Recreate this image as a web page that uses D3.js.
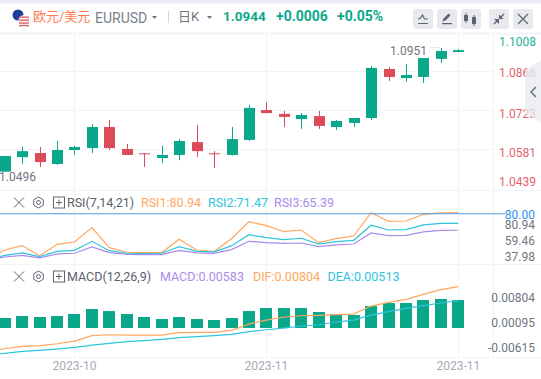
<!DOCTYPE html>
<meta charset="utf-8">
<style>
  body { margin: 0; background: #fff; }
  text { font-family: Roboto, "Noto Sans CJK SC", sans-serif; }
</style>
<body>
<div id="chart"></div>
<script src="https://cdn.jsdelivr.net/npm/d3@7"></script>
<script>

// candles, left to right
var opens  = [1.0503, 1.0556, 1.0571, 1.0531, 1.0582, 1.0589, 1.0666, 1.0586, 1.0570, 1.0553, 1.0564, 1.0611, 1.0570, 1.0564, 1.0619, 1.0728, 1.0714, 1.0695, 1.0706, 1.0666, 1.0681, 1.0699, 1.0878, 1.0845, 1.0849, 1.0915, 1.0940];
var closes = [1.0560, 1.0578, 1.0538, 1.0582, 1.0593, 1.0666, 1.0589, 1.0564, 1.0567, 1.0564, 1.0615, 1.0578, 1.0567, 1.0622, 1.0736, 1.0717, 1.0703, 1.0710, 1.0670, 1.0688, 1.0699, 1.0882, 1.0849, 1.0856, 1.0918, 1.0944, 1.0947];
var highs  = [1.0560, 1.0593, 1.0593, 1.0615, 1.0597, 1.0677, 1.0692, 1.0604, 1.0570, 1.0597, 1.0622, 1.0673, 1.0578, 1.0666, 1.0747, 1.0757, 1.0725, 1.0717, 1.0725, 1.0692, 1.0699, 1.0889, 1.0885, 1.0896, 1.0918, 1.0955, 1.0951];
var lows   = [1.0503, 1.0531, 1.0520, 1.0527, 1.0564, 1.0571, 1.0582, 1.0564, 1.0520, 1.0535, 1.0545, 1.0556, 1.0516, 1.0562, 1.0615, 1.0717, 1.0666, 1.0659, 1.0659, 1.0655, 1.0666, 1.0692, 1.0834, 1.0831, 1.0827, 1.0900, 1.0940];

// indicator lines start one bar before the first visible candle
var rsi1 = [39.1, 47.9, 51.8, 42.9, 52.9, 55.0, 67.7, 50.0, 45.9, 45.6, 45.6, 57.4, 47.9, 46.5, 57.9, 73.0, 69.5, 64.1, 65.6, 54.4, 57.9, 60.3, 80.94, 73.3, 73.6, 79.5, 80.9, 80.94];
var rsi2 = [38.8, 43.2, 45.3, 42.0, 46.7, 47.6, 55.6, 47.3, 45.0, 44.7, 45.0, 50.9, 46.7, 46.2, 51.5, 61.5, 58.8, 57.1, 58.3, 53.2, 55.3, 56.5, 69.8, 65.6, 65.9, 70.1, 71.5, 71.47];
var rsi3 = [38.5, 41.7, 43.2, 40.9, 44.4, 45.0, 50.6, 45.6, 44.1, 43.8, 43.8, 47.6, 45.3, 45.0, 48.2, 55.6, 54.4, 53.8, 54.1, 50.9, 52.4, 53.2, 63.0, 60.6, 60.9, 63.9, 65.3, 65.39];

var macdBars = [0.00208, 0.00249, 0.00229, 0.00249, 0.00291, 0.00395, 0.00353, 0.00291, 0.00229, 0.00187, 0.00229, 0.00187, 0.00166, 0.00208, 0.00353, 0.00416, 0.00416, 0.00416, 0.00333, 0.00291, 0.00270, 0.00457, 0.00520, 0.00520, 0.00582, 0.00603, 0.00583];
var dif = [-0.00533, -0.00485, -0.00436, -0.00422, -0.00381, -0.00325, -0.00214, -0.00194, -0.00201, -0.00201, -0.00201, -0.00152, -0.00145, -0.00145, -0.00104, 0.00028, 0.00111, 0.00174, 0.00201, 0.00208, 0.00222, 0.00236, 0.00402, 0.00478, 0.00541, 0.00645, 0.00742, 0.00804];
var dea = [-0.00609, -0.00582, -0.00540, -0.00519, -0.00492, -0.00457, -0.00408, -0.00374, -0.00339, -0.00318, -0.00291, -0.00256, -0.00235, -0.00214, -0.00187, -0.00131, -0.00090, -0.00055, -0.00013, 0.00014, 0.00070, 0.00111, 0.00215, 0.00285, 0.00354, 0.00409, 0.00465, 0.00513];

var priceTicks = ["1.1008", "1.0866", "1.0723", "1.0581", "1.0439"];
var rsiTicks = ["80.94", "59.46", "37.98"];
var macdTicks = ["0.00804", "0.00095", "-0.00615"];
var monthLabels = [{ bar: 4, text: "2023-10" }, { bar: 15, text: "2023-11" }, { bar: 26, text: "2023-11" }];

var green = "#0aa88a", red = "#dc4b5a", orange = "#ffa65e", cyan = "#2ec4de", purple = "#a98bec",
    grid = "#f3f4f7", gray = "#70757f", axisGray = "#a9acb8";

var width = 541, height = 379, plotRight = 493;

var svg = d3.select("#chart").append("svg")
    .attr("width", width)
    .attr("height", height)
    .style("display", "block");

var x = d3.scaleLinear().domain([0, 26]).range([4.7, 458.3]);
var price = d3.scaleLinear().domain([1.0866, 1.0581]).range([72.3, 150.3]);
var rsi = d3.scaleLinear().domain([80.94, 37.98]).range([212.7, 261.2]);
var macdLine = d3.scaleLinear().domain([0, 0.00804]).range([325.4, 286.7]);
var macdBar = d3.scaleLinear().domain([0, 0.00583]).range([328, 300]);

// tick labels do not sit on the data scale in this widget, they have their own spacing
var rsiLabelY = d3.scaleLinear().domain([80.94, 37.98]).range([224.7, 256.7]);
var macdLabelY = d3.scaleLinear().domain([0.00804, -0.00615]).range([298.3, 348.3]);

///////////////////
/// frame + grid ///
///////////////////
svg.append("rect").attr("width", width).attr("height", 3).attr("fill", "#e9ecf2");
svg.append("rect").attr("y", 3).attr("width", 541).attr("height", 1).attr("fill", "#f4f5f8");

[33, 190, 264, 357].forEach(function(y) {
  svg.append("line").attr("x1", 0).attr("x2", width).attr("y1", y + 0.5).attr("y2", y + 0.5)
    .attr("stroke", grid).attr("stroke-width", y == 33 ? 2 : 1);
});

priceTicks.slice(1, 4).forEach(function(t) {
  svg.append("line").attr("x1", 0).attr("x2", plotRight)
    .attr("y1", Math.round(price(+t)) - 0.5).attr("y2", Math.round(price(+t)) - 0.5)
    .attr("stroke", grid).attr("stroke-width", 1);
});

monthLabels.forEach(function(m) {
  svg.append("line").attr("x1", Math.round(x(m.bar)) + 0.5).attr("x2", Math.round(x(m.bar)) + 0.5)
    .attr("y1", 33).attr("y2", 357)
    .attr("stroke", grid).attr("stroke-width", 1);
  svg.append("text").attr("x", x(m.bar)).attr("y", 370)
    .attr("text-anchor", "middle").attr("font-size", 12).attr("fill", axisGray)
    .text(m.text);
});

svg.append("line").attr("x1", plotRight + 0.5).attr("x2", plotRight + 0.5).attr("y1", 33).attr("y2", 357)
  .attr("stroke", grid);

////////////////////
/// candle panel ///
////////////////////
var candles = svg.append("g").selectAll("g")
    .data(opens)
    .enter().append("g");

candles.append("line")
    .attr("x1", function(d, i) { return Math.round(x(i)) + 0.5; })
    .attr("x2", function(d, i) { return Math.round(x(i)) + 0.5; })
    .attr("y1", function(d, i) { return price(highs[i]); })
    .attr("y2", function(d, i) { return price(lows[i]); })
    .attr("stroke", function(d, i) { return closes[i] >= d ? green : red; });

candles.append("rect")
    .attr("x", function(d, i) { return Math.round(x(i)) - 5; })
    .attr("width", 11)
    .attr("y", function(d, i) { return price(Math.max(d, closes[i])); })
    .attr("height", function(d, i) { return Math.max(1, Math.abs(price(d) - price(closes[i]))); })
    .attr("fill", function(d, i) { return closes[i] >= d ? green : red; });

svg.append("text").attr("x", -1).attr("y", 181).attr("font-size", 12).attr("fill", gray).text("1.0496");
svg.append("text").attr("x", 390).attr("y", 55).attr("font-size", 12).attr("fill", gray).text("1.0951");
svg.append("line").attr("x1", 430).attr("x2", 439).attr("y1", 47.5).attr("y2", 47.5)
  .attr("stroke", "#c4c7cf").attr("stroke-dasharray", "1,1.5");

var priceNudge = [8.5, 1, 2.5, 2.5, -7];
svg.append("g").selectAll("text")
    .data(priceTicks)
    .enter().append("text")
    .attr("x", 536)
    .attr("y", function(d, i) { return price(+d) + priceNudge[i] + 4; })
    .attr("text-anchor", "end")
    .attr("font-size", 12)
    .attr("fill", function(d, i) { return i == 0 ? "#1fb296" : "#e2636f"; })
    .text(function(d) { return d; });

// collapse tab on the right edge, the labels show through it
svg.append("path")
    .attr("d", "M541 60L525 70V113L541 123Z")
    .attr("fill", "#e9ebf0").attr("fill-opacity", 0.8);
svg.append("path")
    .attr("d", "M536 87L531 92L536 97")
    .attr("fill", "none").attr("stroke", "#6a6f7b").attr("stroke-width", 1.5);

/////////////////
/// RSI panel ///
/////////////////
var rsiLine = d3.line()
    .x(function(d, i) { return x(i - 1); })
    .y(function(d) { return rsi(d); });

[[rsi1, orange], [rsi2, cyan], [rsi3, purple]].forEach(function(s) {
  svg.append("path")
    .attr("d", rsiLine(s[0]))
    .attr("fill", "none").attr("stroke", s[1]).attr("stroke-width", 1.2);
});

svg.append("line").attr("x1", 0).attr("x2", 505).attr("y1", rsi(80)).attr("y2", rsi(80))
  .attr("stroke", "#4a9de6").attr("stroke-width", 1);
svg.append("text").attr("x", 535).attr("y", 218.5).attr("text-anchor", "end")
  .attr("font-size", 12).attr("fill", "#2f93ea").text("80.00");

svg.append("g").selectAll("text")
    .data(rsiTicks)
    .enter().append("text")
    .attr("x", 535)
    .attr("y", function(d) { return rsiLabelY(+d) + 4; })
    .attr("text-anchor", "end")
    .attr("font-size", 12)
    .attr("fill", gray)
    .text(function(d) { return d; });

//////////////////
/// MACD panel ///
//////////////////
svg.append("g").selectAll("rect")
    .data(macdBars)
    .enter().append("rect")
    .attr("x", function(d, i) { return Math.round(x(i)) - 6; })
    .attr("width", 12)
    .attr("y", function(d) { return macdBar(d); })
    .attr("height", function(d) { return macdBar(0) - macdBar(d); })
    .attr("fill", green);

var macdPath = d3.line()
    .x(function(d, i) { return x(i - 1); })
    .y(function(d) { return macdLine(d); });

[[dif, orange], [dea, cyan]].forEach(function(s) {
  svg.append("path")
    .attr("d", macdPath(s[0]))
    .attr("fill", "none").attr("stroke", s[1]).attr("stroke-width", 1.2);
});

svg.append("g").selectAll("text")
    .data(macdTicks)
    .enter().append("text")
    .attr("x", 535)
    .attr("y", function(d) { return macdLabelY(+d) + 4; })
    .attr("text-anchor", "end")
    .attr("font-size", 12)
    .attr("fill", gray)
    .text(function(d) { return d; });

//////////////////
/// header row ///
//////////////////
function label(parent, px, py, size, color, str, weight) {
  return parent.append("text").attr("x", px).attr("y", py)
    .attr("font-size", size).attr("fill", color).attr("font-weight", weight || 400).text(str);
}

svg.append("circle").attr("cx", 18).attr("cy", 15).attr("r", 5.5).attr("fill", "#1f3c9c");
svg.append("circle").attr("cx", 24).attr("cy", 20.5).attr("r", 5.5).attr("fill", "#f3eeee");
[16.5, 19.5, 22.5, 25].forEach(function(y) {
  svg.append("rect").attr("x", 19).attr("y", y).attr("width", 10).attr("height", 1.3).attr("fill", "#e0606a");
});

label(svg, 33, 21, 13, "#ff7d4f", "欧元/美元");
label(svg, 95, 23, 14, "#7c808c", "EURUSD");
svg.append("path").attr("d", "M152 16h5l-2.5 3z").attr("fill", "#6f7480");
svg.append("line").attr("x1", 168.5).attr("x2", 168.5).attr("y1", 11).attr("y2", 23).attr("stroke", "#d5d8df");
label(svg, 178, 21, 13, "#70757f", "日K");
svg.append("path").attr("d", "M207 16h5l-2.5 3z").attr("fill", "#6f7480");
label(svg, 223, 21, 13.5, green, "1.0944", 700);
label(svg, 276, 21, 14, green, "+0.0006", 700);
label(svg, 337, 21, 14, green, "+0.05%", 700);

// toolbar buttons
var buttons = [413, 437, 461, 489, 513];
svg.append("g").selectAll("rect")
    .data(buttons)
    .enter().append("rect")
    .attr("x", function(d) { return d; })
    .attr("y", 9).attr("width", 20).attr("height", 20).attr("rx", 3)
    .attr("fill", "#e7e9ef");

var ink = "#5f6470";
svg.append("path").attr("d", "M418 23.5h10M418 19l2.5-1 2-3 2 4 3.5 0").attr("fill", "none").attr("stroke", ink).attr("stroke-width", 1.2);
svg.append("path").attr("d", "M442 23h10v1.2h-10zM442.5 21.5l1-3 5-5 2 2-5 5z").attr("fill", ink);
svg.append("path").attr("d", "M466 13v10M474 15v11").attr("stroke", ink).attr("fill", "none");
svg.append("rect").attr("x", 464).attr("y", 15).attr("width", 4).attr("height", 6).attr("fill", ink);
svg.append("rect").attr("x", 472).attr("y", 17).attr("width", 4).attr("height", 7).attr("fill", ink);
svg.append("path").attr("d", "M504 14L500 18M494 24L498 20").attr("stroke", ink).attr("fill", "none").attr("stroke-width", 1.3);
svg.append("path").attr("d", "M499 14.5v4.5h4.5zM499 24v-5h-5z").attr("fill", ink);
svg.append("path").attr("d", "M518 14l10 10M528 14l-10 10").attr("stroke", ink).attr("stroke-width", 1.2);

///////////////////////
/// indicator titles ///
///////////////////////
function paneControls(cy) {
  svg.append("path").attr("d", "M14 " + (cy - 5) + "l10 10M24 " + (cy - 5) + "l-10 10")
    .attr("stroke", ink).attr("stroke-width", 1);
  svg.append("path")
    .attr("d", d3.range(7).map(function(k) {
      var a = Math.PI / 3 * k + Math.PI / 6;
      return (k ? "L" : "M") + (38.5 + 5.5 * Math.cos(a)) + " " + (cy + 5.5 * Math.sin(a));
    }).join("") + "Z")
    .attr("fill", "none").attr("stroke", ink);
  svg.append("circle").attr("cx", 38.5).attr("cy", cy).attr("r", 2).attr("fill", "none").attr("stroke", ink);
  svg.append("rect").attr("x", 53.5).attr("y", cy - 5.5).attr("width", 11).attr("height", 11)
    .attr("fill", "none").attr("stroke", ink);
  svg.append("path").attr("d", "M56 " + cy + "h6M59 " + (cy - 3) + "v6").attr("stroke", ink);
}

paneControls(202.5);
paneControls(276.5);

label(svg, 67, 207, 12.5, "#5c606b", "RSI(7,14,21)");
label(svg, 141, 207, 12.5, orange, "RSI1:80.94");
label(svg, 208, 207, 12.5, cyan, "RSI2:71.47");
label(svg, 274, 207, 12.5, purple, "RSI3:65.39");

label(svg, 67, 281, 12.5, "#5c606b", "MACD(12,26,9)");
label(svg, 160, 281, 12.5, purple, "MACD:0.00583");
label(svg, 253, 281, 12.5, orange, "DIF:0.00804");
label(svg, 327.5, 281, 12.5, cyan, "DEA:0.00513");

</script>
</body>
